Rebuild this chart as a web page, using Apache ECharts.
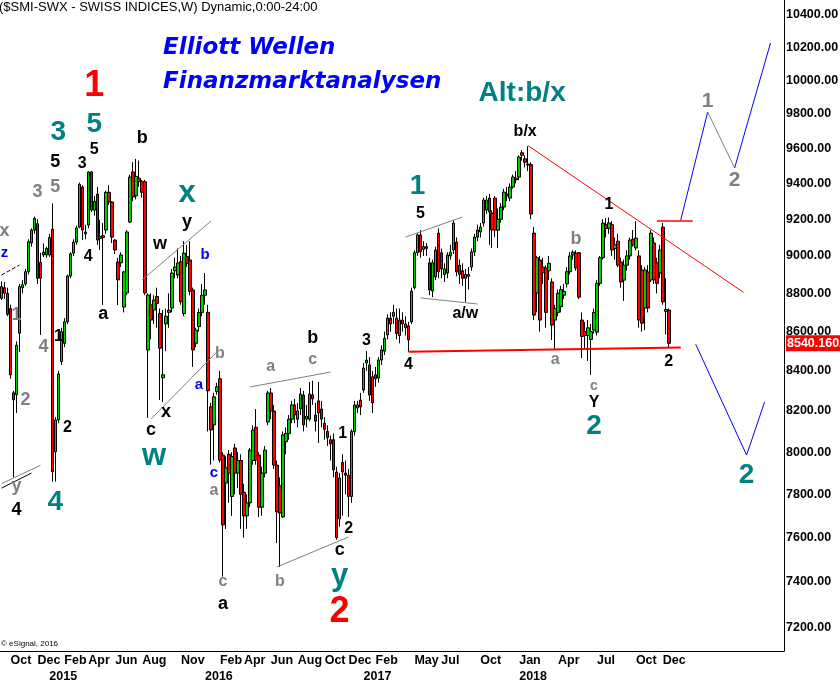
<!DOCTYPE html>
<html><head><meta charset="utf-8">
<script src="https://cdn.jsdelivr.net/npm/echarts@6/dist/echarts.min.js"></script>
<style>html,body{margin:0;padding:0;background:#fff}#c{width:840px;height:685px}</style>
</head><body><div id="c"></div>
<script>
// ================= DATA =================
const startDate = '2014-09-12';   // first weekly bar
const weekCount = 262;            // weekly slots on the axis (incl. projection area)
const lastPrice = 8540.1602;

// weekly candles [open, close, low, high]
const candles2014 = [
 [8774,8836,8765,8862],[8830,8800,8770,8860],[8800,8690,8680,8830],[8720,8380,8360,8740],
 [8290,8255,7880,8300],[8280,8530,8190,8550],[8592,8836,8496,8850],[8830,8845,8800,8870],
 [8850,8915,8840,8930],[8915,9077,8900,9090],[9070,9140,9050,9150],[9140,9205,9120,9215],
 [9175,8880,8850,9200],[8965,8880,8583,9017],[9005,9020,8994,9068],[9005,9040,8990,9050]
];
const candles2015 = [
 [9005,9100,8995,9120],[9145,7907,7859,9288],[8002,8156,7860,8170],[8156,8384,8140,8400],
 [8447,8600,8430,8620],[8540,8651,8520,8670],[8651,8892,8640,8900],[8892,9011,8880,9020],
 [9015,9075,9000,9090],[9075,9152,9060,9165],[9157,9395,9150,9405],[9380,9141,9086,9390],
 [9120,9130,9090,9170],[9168,9465,9150,9470],[9465,9251,9240,9470],[9250,9300,9220,9330],
 [9340,9086,9060,9380],[9095,9105,9032,9196],[9110,9100,8739,9180],[9141,9350,9120,9360],
 [9350,9296,9280,9390],[9296,9102,9070,9300],[9086,9032,9010,9090],[8967,8871,8739,8990],
 [8963,9005,8940,9020],[8728,8914,8700,8920],[8802,9130,8790,9140],[9185,9436,9180,9450],
 [9465,9324,9300,9521],[9330,9440,9310,9540],[9430,9410,9380,9530],[9410,9350,9320,9420],
 [9410,8802,8790,9420],[8506,8791,8166,8800],[8739,8660,8560,8800],[8712,8765,8640,8790],
 [8783,8747,8620,8830],[8694,8515,8254,8720],[8365,8380,8245,8712],[8640,8680,8500,8720],
 [8700,8712,8620,8800],[8723,8908,8700,8930],[8920,8940,8880,8990],[8897,8962,8880,9040],
 [8969,8756,8740,9000],[8694,9015,8680,9080],[8996,8960,8940,9060],[8978,8810,8790,9080],
 [8818,8506,8420,8830],[8540,8608,8520,8620],[8626,8699,8600,8720],[8700,8790,8680,8850]
];
const candles2016 = [
 [8790,8818,8740,8908],[8700,8300,8100,8740],[8221,8107,7940,8240],[8132,8270,7960,8290],
 [8296,8320,8280,8340],[8360,7962,7950,8400],[7986,7658,7424,8000],[7853,7925,7640,7980],
 [7990,7900,7760,8010],[7790,7979,7700,8000],[8020,7900,7800,8040],[7900,7960,7830,8000],
 [7960,7800,7640,7990],[7810,7700,7600,7850],[7700,7760,7640,7800],[7760,8010,7740,8020],
 [7960,8107,7940,8130],[8120,7962,7940,8210],[7986,7740,7695,8000],[7740,7900,7700,7930],
 [7900,8010,7880,8030],[8146,8289,8130,8300],[8289,8200,8160,8314],[8200,7938,7920,8230],
 [7938,7718,7575,7960],[7840,7713,7467,7880],[7695,8083,7690,8100],[8050,8090,7990,8120],
 [8090,8160,8060,8180],[8160,8230,8140,8250],[8230,8180,8140,8260],[8160,8200,8120,8240],
 [8210,8284,8180,8314],[8279,8132,8100,8300],[8160,8175,8120,8230],[8160,8284,8150,8344],
 [8280,8260,8230,8350],[8180,8150,8100,8240],[8250,8190,8044,8344],[8210,8160,8120,8250],
 [8140,8110,8060,8170],[8100,8070,8030,8130],[8060,8040,7960,8080],[8060,7915,7880,8090],
 [7905,7600,7590,7930],[7686,7877,7650,7900],[7950,7905,7700,7990],[7900,7890,7800,7960],
 [7890,7790,7695,7920],[7790,8100,7760,8110],[8100,8230,8080,8250],[8215,8230,8190,8250],
 [8254,8220,8180,8290]
];
const candles2017 = [
 [8304,8414,8290,8440],[8440,8455,8400,8500],[8430,8279,8250,8470],[8370,8240,8190,8400],
 [8380,8360,8320,8420],[8364,8455,8340,8470],[8455,8506,8430,8530],[8500,8565,8480,8600],
 [8583,8670,8560,8690],[8670,8640,8600,8700],[8680,8700,8640,8740],[8670,8590,8560,8720],
 [8580,8660,8540,8720],[8660,8640,8600,8700],[8620,8640,8580,8680],[8630,8557,8497,8650],
 [8650,8812,8640,8830],[8830,9017,8820,9030],[9017,9114,9000,9124],[9114,9022,8990,9140],
 [9035,9050,9000,9080],[9050,9040,9000,9070],[8963,8818,8790,8990],[8812,8963,8780,8980],
 [8887,9032,8870,9050],[9124,8914,8880,9150],[9017,8930,8880,9040],[8900,8930,8860,8960],
 [8908,9005,8880,9020],[9000,9020,8980,9060],[9032,9179,9010,9196],[9075,8914,8890,9100],
 [8950,8900,8850,8980],[8920,8880,8840,8960],[8880,8900,8755,8930],[8890,8900,8820,8940],
 [8940,9022,8920,9040],[9022,9102,9000,9120],[9102,9141,9080,9170],[9130,9157,9100,9180],
 [9179,9307,9160,9320],[9251,9307,9230,9330],[9318,9240,9060,9340],[9235,9141,9043,9250],
 [9318,9141,9102,9330],[9140,9200,9043,9260],[9200,9268,9180,9290],[9268,9351,9250,9370],
 [9340,9330,9300,9380],[9318,9380,9300,9400],[9380,9436,9370,9450],[9430,9420,9400,9470]
];
const candles2018 = [
 [9436,9550,9420,9560],[9575,9560,9530,9590],[9540,9520,9490,9560],[9510,9505,9470,9612],
 [9507,9229,9200,9520],[9124,8686,8660,9157],[8802,8990,8700,9000],[8978,8660,8600,9000],
 [8940,8910,8850,8990],[8935,8700,8620,8950],[8920,8960,8870,9000],[8860,8634,8557,8880],
 [8660,8720,8506,8740],[8700,8800,8680,8820],[8730,8820,8700,8840],[8790,8810,8770,8850],
 [8850,8915,8830,8940],[8915,9000,8900,9020],[9005,9020,8980,9030],[9015,8935,8920,9030],
 [9017,8780,8770,9020],[8660,8575,8465,8700],[8600,8580,8506,8650],[8580,8620,8450,8660],
 [8560,8600,8380,8640],[8608,8700,8590,8720],[8597,8853,8580,8870],[8853,8990,8840,9000],
 [8990,9179,8980,9200],[9170,9150,9100,9207],[9150,9180,9120,9210],[9170,9032,9000,9190],
 [9040,9060,8980,9100],[9080,8950,8940,9120],[8967,8860,8830,8990],[8870,8950,8760,8980],
 [8950,9000,8920,9030],[9000,9086,8980,9100],[9090,9060,9050,9141],[9043,9097,9030,9190],
 [9000,8660,8620,9030],[8924,8644,8600,8950],[8723,8924,8608,8940],[8914,8723,8700,8950],
 [8871,9124,8860,9140],[9070,8871,8850,9100],[8963,8853,8800,8990],[8908,9032,8880,9060],
 [9157,8755,8740,9180],[8705,8715,8585,8880],[8712,8540.1602,8517,8720]
];

// axis tick labels
const yTicks = [7200,7400,7600,7800,8000,8200,8400,8600,8800,9000,9200,9400,9600,9800,10000,10200,10400];
const monthTicks = ['2014-10','2014-12','2015-02','2015-04','2015-06','2015-08','2015-11',
  '2016-02','2016-04','2016-06','2016-08','2016-10','2016-12','2017-02','2017-05','2017-07',
  '2017-10','2018-01','2018-04','2018-07','2018-10','2018-12'];
const yearTicks = ['2015','2016','2017','2018'];
const monthNames = ['Jan','Feb','Mar','Apr','May','Jun','Jul','Aug','Sep','Oct','Nov','Dec'];

// drawn lines: [weekIndex, price]
const supportLine   = [[136,8497],[227,8519]];
const downTrend     = [[176,9615],[248,8805]];
const breakoutLevel = [[219,9190],[231,9190]];
const bullPathA     = [[227,9196],[236,9812]];
const bullPathB     = [[236,9812],[245,9488]];
const bullPathC     = [[245,9488],[257,10227]];
const bearPath      = [[232,8535],[249,7986],[255,8244]];
const zLine         = [[0,8897],[6,8951]];
const yLineA        = [[0,7829],[10,7900]];
const yLineB        = [[0,7850],[13,7937]];
const wxyLine       = [[47,8871],[70,9190]];
const cLowLine      = [[50,8161],[72,8496]];
const top2016Line   = [[83,8319],[110,8394]];
const bot2016Line   = [[92,7467],[116,7603]];
const top2017Line   = [[135,9102],[154,9212]];
const bot2017Line   = [[140,8776],[159,8744]];

// wave annotations
const labelText  = ['1','5','3','5','5','3','3','5','4','x','z','1','4','2','1','2','y','4','4',
  'a','b','w','x','y','b','c','x','w','a','b','c','a','c','a','b','a','b','c','1','2','c','y','2',
  '3','4','5','1','a/w','b/x','Alt:b/x','b','a','c','Y','2','1','2','1','2','2',
  'Elliott Wellen','Finanzmarktanalysen'];
const labelIdx   = [31,31,19,18,18,12,27,31,29,1,1,5,14,8,19,22,5,5,18,
  34,47,53,62,62,68,50,55,51,66,73,71,71,74,74,93,90,104,104,114,116,113,113,113,
  122,136,140,139,155,175,174,192,185,198,198,198,203,223,236,245,249,
  54,54];
const labelPrice = [9966,9741,9695,9522,9380,9352,9510,9591,8994,9135,9016,8686,8521,8254,8573,8117,7839,7727,7764,
  8692,9660,9065,9341,9185,9005,8107,8195,7977,8329,8485,7901,7816,7400,7303,7400,8419,8567,8455,8088,7640,7544,7423,7268,
  8552,8430,9229,9386,8692,9695,9924,9092,8455,8324,8240,8127,9279,8445,9877,9419,7891,
  10196,9990];

// ================= STYLING =================
const labelKind = ['red','tealBig','tealBig','blackMid','greyMid','greyMid','blackSmall','blackSmall','blackSmall','greyMid','blue','greyMid','greyMid','greyMid','blackSmall','blackSmall','greyMid','blackMid','tealBig',
  'blackMid','blackMid','blackMid','tealLetter','blackMid','blue','blackMid','blackMid','tealLetter','blue','greySmall','blue','greySmall','greySmall','blackMid','greySmall','greySmall','blackMid','greySmall','blackSmall','blackSmall','blackMid','tealLetter','red',
  'blackSmall','blackSmall','blackSmall','tealBig','blackLbl','blackLbl','alt','greyMid','greySmall','greyTiny','blackLbl','tealBig','blackSmall','blackSmall','greyBig','greyBig','tealBig',
  'headline','headline'];
const FONT = 'Liberation Sans, Arial, sans-serif';
const kindStyle = {
  red:{fill:'#ff0000',fontSize:36},
  tealBig:{fill:'#008080',fontSize:28},
  tealLetter:{fill:'#008080',fontSize:31},
  alt:{fill:'#008080',fontSize:28},
  blackMid:{fill:'#000000',fontSize:18},
  blackLbl:{fill:'#000000',fontSize:16},
  blackSmall:{fill:'#000000',fontSize:16},
  greyMid:{fill:'#808080',fontSize:18},
  greySmall:{fill:'#808080',fontSize:16},
  greyTiny:{fill:'#808080',fontSize:14},
  greyBig:{fill:'#808080',fontSize:21},
  blue:{fill:'#0000ff',fontSize:15},
  headline:{fill:'#0000ff',fontSize:23,fontFamily:'DejaVu Sans',fontStyle:'italic',align:'left'}
};
const L = v => Math.log10(v);

const allCandles = [].concat(candles2014, candles2015, candles2016, candles2017, candles2018);
const categories = [];
const d0 = new Date(startDate + 'T00:00:00Z').getTime();
for (let i = 0; i < weekCount; i++) categories.push(new Date(d0 + i * 7 * 86400000).toISOString().slice(0, 10));

const labelMap = {};
monthTicks.forEach(m => {
  const idx = categories.findIndex(c => c.slice(0, 7) === m);
  if (idx >= 0) labelMap[idx] = { m: monthNames[+m.slice(5, 7) - 1], y: ' ' };
});
yearTicks.forEach(y => {
  const idx = categories.findIndex(c => c.slice(0, 4) === y);
  if (idx >= 0) { labelMap[idx] = labelMap[idx] || { m: ' ', y: ' ' }; labelMap[idx].y = y; }
});

function mkLine(pts, color, width, type) {
  return { type:'line', data: pts.map(p => [p[0], L(p[1])]), symbol:'none', silent:true,
    lineStyle:{color, width, type: type || 'solid'}, z:4, animation:false };
}

const lastL = L(lastPrice);
const option = {
  animation: false,
  backgroundColor: '#ffffff',
  title: [
    { text:'($SMI-SWX - SWISS INDICES,W) Dynamic,0:00-24:00', left:-1, top:1, padding:0,
      textStyle:{fontSize:13, fontWeight:'normal', color:'#000', fontFamily:FONT} },
    { text:'\u00a9 eSignal, 2016', left:1, top:640, padding:0,
      textStyle:{fontSize:8, fontWeight:'normal', color:'#000', fontFamily:FONT} }
  ],
  grid: { left:0, right:56, top:0, bottom:34, containLabel:false, outerBoundsMode:'none' },
  xAxis: {
    type:'category', data: categories, boundaryGap:true,
    axisLine:{show:true, lineStyle:{color:'#000', width:1}},
    axisTick:{show:false}, splitLine:{show:false},
    axisLabel:{
      interval:(idx) => !!labelMap[idx],
      formatter:(val, idx) => labelMap[idx] ? labelMap[idx].m + '\n' + labelMap[idx].y : '',
      align:'left', color:'#000', fontWeight:'bold', fontSize:12.5, fontFamily:FONT,
      lineHeight:15.5, margin:2
    }
  },
  yAxis: {
    type:'value', position:'right', min:L(7100), max:L(10494), scale:true,
    axisLine:{show:true, lineStyle:{color:'#000', width:1}},
    axisTick:{show:false}, splitLine:{show:false},
    axisLabel:{
      customValues: yTicks.map(L).concat([lastL]),
      formatter: v => Math.abs(v - lastL) < 1e-9 ? '{flag|' + lastPrice.toFixed(4) + '}' : Math.pow(10, v).toFixed(2),
      color:'#000', fontWeight:'bold', fontSize:12.5, fontFamily:FONT, margin:2,
      rich:{ flag:{ backgroundColor:'#ff0000', color:'#ffffff', fontWeight:'bold', fontSize:12.5, fontFamily:FONT, padding:[2,1,1,1] } }
    }
  },
  series: [
    { type:'candlestick', data: allCandles.map(c => c.map(L)), barWidth:3, z:3,
      itemStyle:{ color:'#00cc00', color0:'#ff0000', borderColor:'#000', borderColor0:'#000', borderColorDoji:'#000', borderWidth:1 } },
    mkLine(supportLine, '#ff0000', 2),
    mkLine(downTrend, '#ff0000', 1),
    mkLine(breakoutLevel, '#ff0000', 1.5),
    mkLine(bullPathA, '#0000ff', 1),
    mkLine(bullPathB, '#808080', 1),
    mkLine(bullPathC, '#0000ff', 1),
    mkLine(bearPath, '#0000ff', 1),
    mkLine(zLine, '#000000', 1, 'dashed'),
    mkLine(yLineA, '#000000', 1),
    mkLine(yLineB, '#808080', 1),
    mkLine(wxyLine, '#808080', 1),
    mkLine(cLowLine, '#808080', 1),
    mkLine(top2016Line, '#808080', 1),
    mkLine(bot2016Line, '#808080', 1),
    mkLine(top2017Line, '#808080', 1),
    mkLine(bot2017Line, '#808080', 1),
    { type:'custom', silent:true, z:6, clip:false,
      data: labelText.map((t, k) => [labelIdx[k], L(labelPrice[k]), k]),
      renderItem: (params, api) => {
        const k = api.value(2);
        const p = api.coord([api.value(0), api.value(1)]);
        const st = kindStyle[labelKind[k]];
        return { type:'text', x:p[0], y:p[1], silent:true,
          style: { text: labelText[k], fill: st.fill, fontSize: st.fontSize,
            fontFamily: st.fontFamily || FONT, fontWeight:'bold', fontStyle: st.fontStyle || 'normal',
            align: st.align || 'center', verticalAlign:'middle' } };
      }
    }
  ]
};
const chart = echarts.init(document.getElementById('c'), null, {renderer:'canvas'});
chart.setOption(option);
</script>
</body></html>
